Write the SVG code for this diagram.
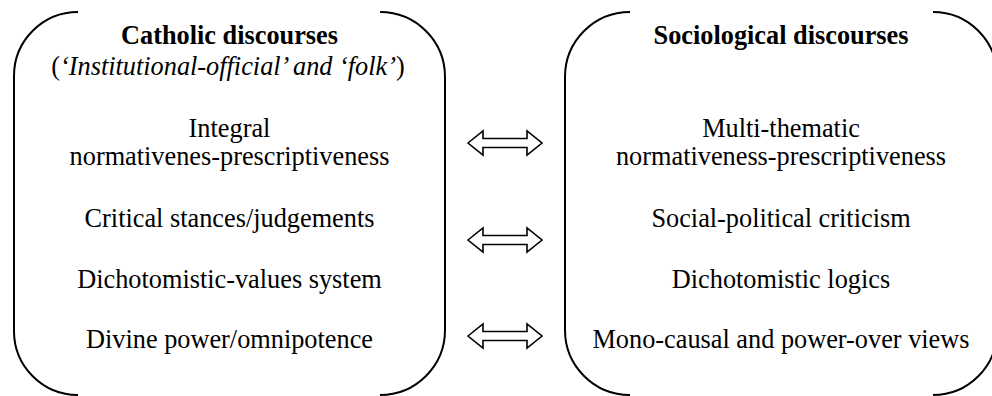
<svg xmlns="http://www.w3.org/2000/svg" width="992" height="396" viewBox="0 0 992 396">
<style>
text{font-family:"Liberation Serif","Times New Roman",serif;font-size:26.3px;fill:#000;text-anchor:middle}
.t{font-weight:bold}
.i{font-style:italic}
.box{fill:none;stroke:#000;stroke-width:2}
.arr{fill:#fff;stroke:#000;stroke-width:1.6;stroke-linejoin:miter}
</style>
<rect width="992" height="396" fill="#fff"/>
<g id="catholic">
<path class="box" d="M78,12 A64,64 0 0 0 14,76 L14,331 A64,64 0 0 0 78,395"/>
<path class="box" d="M380,12 A65,65 0 0 1 445,77 L445,330 A65,65 0 0 1 380,395"/>
<text class="t" x="229.5" y="44">Catholic discourses</text>
<text x="228" y="75">(<tspan class="i">‘Institutional-official’ and ‘folk’</tspan>)</text>
<text x="229.5" y="137">Integral</text>
<text x="229.5" y="165">normativenes-prescriptiveness</text>
<text x="229.5" y="227">Critical stances/judgements</text>
<text x="229.5" y="288">Dichotomistic-values system</text>
<text x="229.5" y="348">Divine power/omnipotence</text>
</g>
<g id="sociological">
<path class="box" d="M630,12 A65,65 0 0 0 565,77 L565,330 A65,65 0 0 0 630,395"/>
<path class="box" d="M933,12 A64,64 0 0 1 997,76 L997,331 A64,64 0 0 1 933,395"/>
<text class="t" x="781" y="44">Sociological discourses</text>
<text x="781" y="137">Multi-thematic</text>
<text x="781" y="165">normativeness-prescriptiveness</text>
<text x="781" y="227">Social-political criticism</text>
<text x="781" y="288">Dichotomistic logics</text>
<text x="781" y="348">Mono-causal and power-over views</text>
</g>
<g id="connectors">
<polygon class="arr" points="468,143 483,131 483,138.5 527,138.5 527,131 542,143 527,155 527,147.5 483,147.5 483,155"/>
<polygon class="arr" points="468,240 483,228 483,235.5 527,235.5 527,228 542,240 527,252 527,244.5 483,244.5 483,252"/>
<polygon class="arr" points="468,336 483,324 483,331.5 527,331.5 527,324 542,336 527,348 527,340.5 483,340.5 483,348"/>
</g>
</svg>
